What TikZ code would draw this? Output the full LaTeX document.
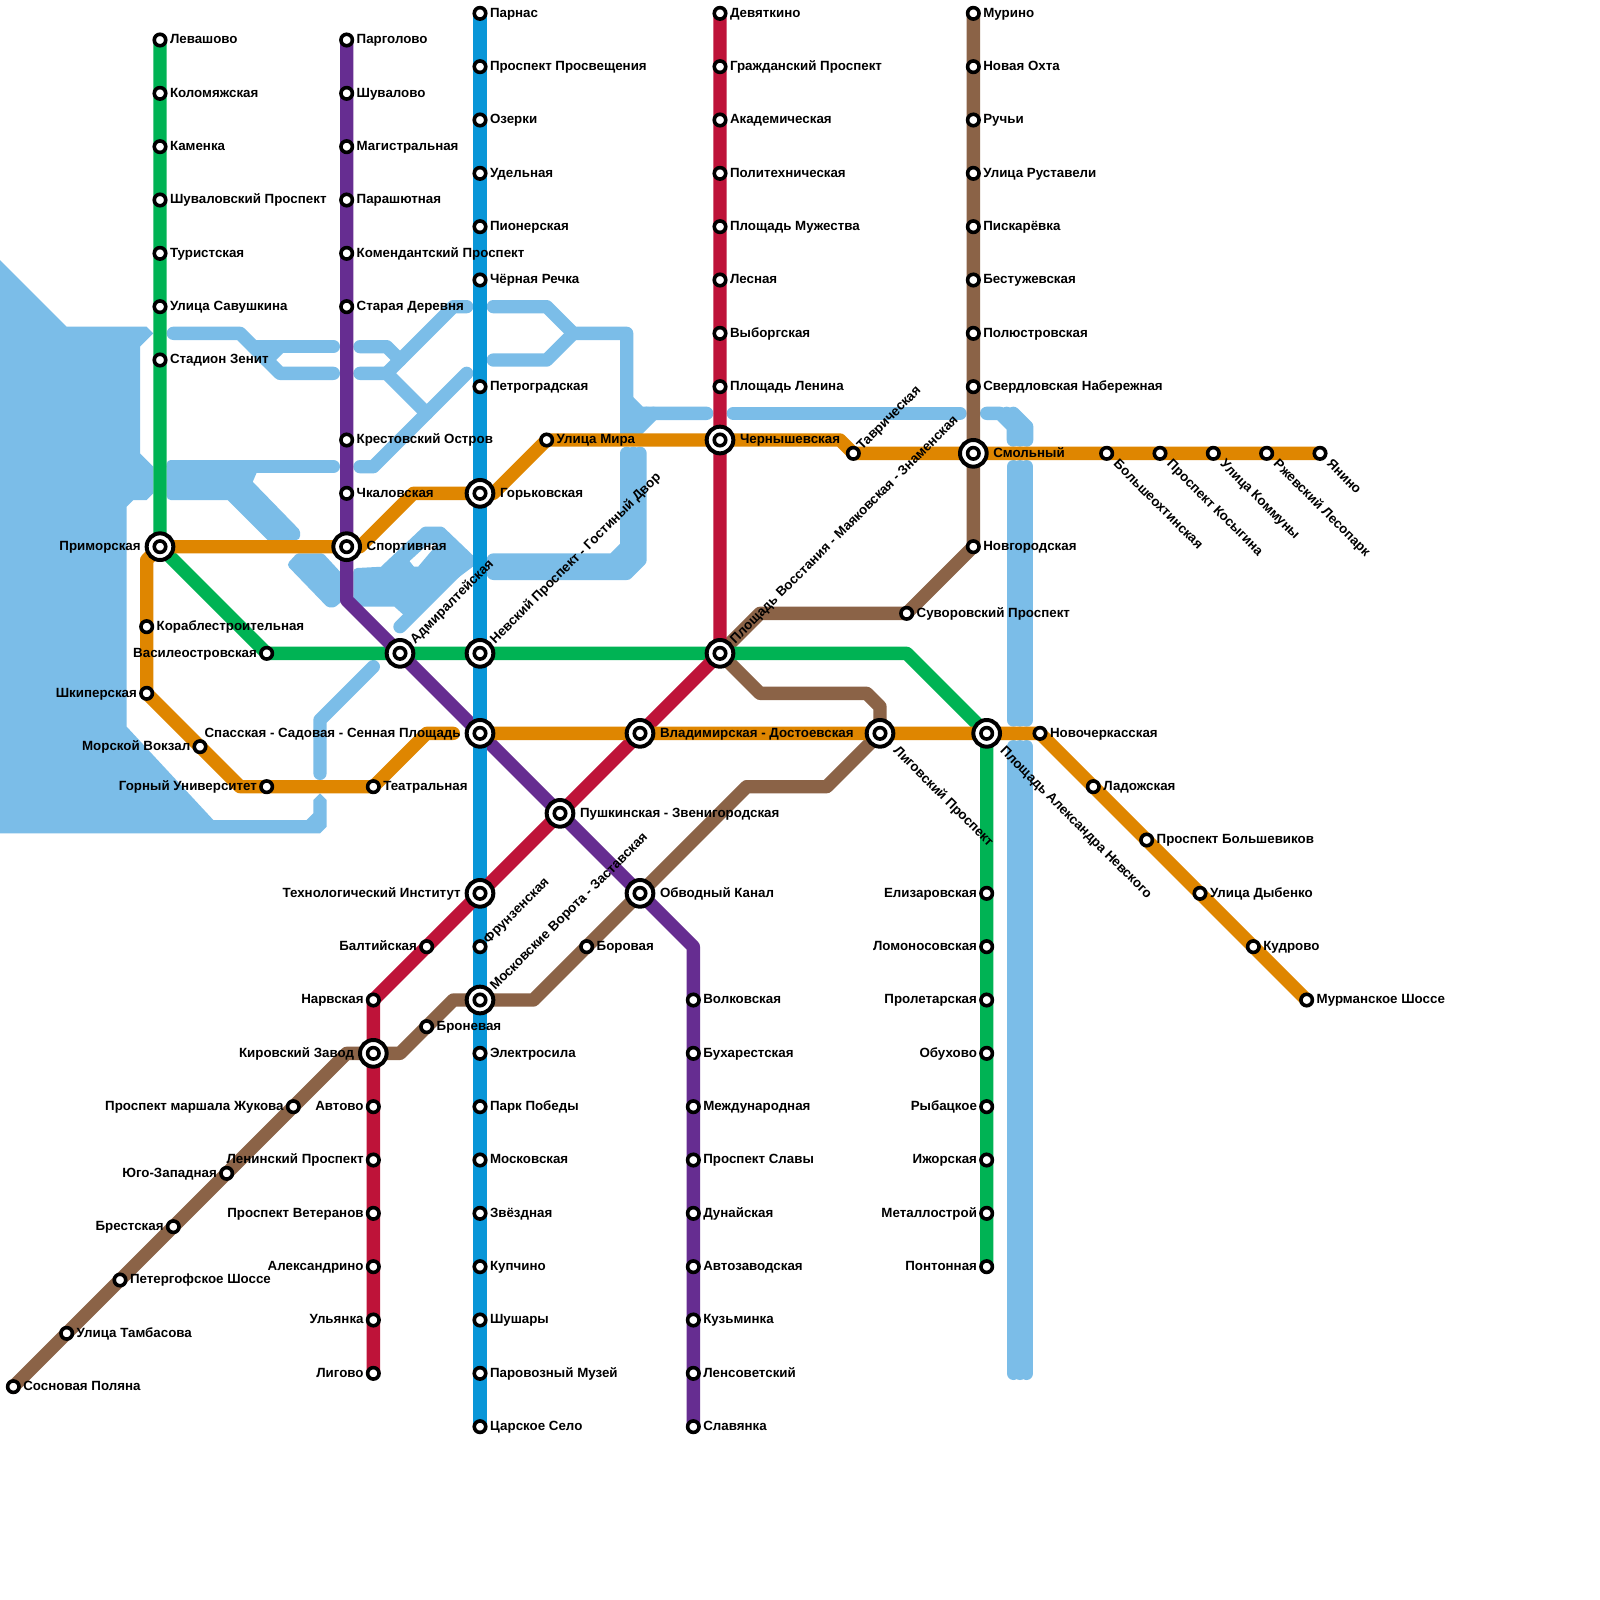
\documentclass[tikz,border=0pt]{standalone}
\usepackage{fontspec}
\setmainfont{Liberation Sans}
\pgfdeclarelayer{back}
\pgfsetlayers{back,main}
\definecolor{cwater}{HTML}{7BBDE8}
\definecolor{cgreen}{HTML}{00B354}
\definecolor{cpurple}{HTML}{662D91}
\definecolor{cblue}{HTML}{0996D8}
\definecolor{cred}{HTML}{BE1339}
\definecolor{cbrown}{HTML}{8B6347}
\definecolor{corange}{HTML}{DF8600}
\tikzset{
  stn/.style={circle,draw=black,fill=white,line width=2.7pt,minimum size=8.6pt,inner sep=0pt,outer sep=0pt},
  stnx/.style={circle,draw=black,fill=white,line width=3pt,minimum size=20pt,inner sep=0pt,outer sep=0pt},
  txt/.style={font=\fontsize{10}{12}\selectfont\bfseries,inner sep=0pt,outer sep=0pt,text=black},
  lr/.style={txt,anchor=base west,xshift=7.5pt,yshift=-2.8pt},
  ll/.style={txt,anchor=base east,xshift=-7.3pt,yshift=-2.8pt},
  xr/.style={txt,anchor=base west,xshift=15pt,yshift=-2.8pt},
  xl/.style={txt,anchor=base east,xshift=-14.5pt,yshift=-2.8pt},
  lu/.style={txt,anchor=base west,rotate=45,xshift=6pt,yshift=-3.2pt},
  ld/.style={txt,anchor=base west,rotate=-45,xshift=9.5pt,yshift=-2.8pt},
  xu/.style={txt,anchor=base west,rotate=45,xshift=13pt,yshift=-3.2pt},
  xd/.style={txt,anchor=base west,rotate=-45,xshift=16.5pt,yshift=-2.8pt},
  metro/.style={line width=10pt,line cap=round,line join=round},
  waterline/.style={draw=cwater,line width=10pt,line cap=round,line join=round},
  waterflat/.style={fill=cwater,draw=cwater,line width=6pt,line join=round,even odd rule}
}
\newcommand\ST[5]{\node[stn] (#1) at (#2,#3) {}; \node[#4] (#1t) at (#1.center) {#5};}
\newcommand\SX[5]{\node[stnx] (#1) at (#2,#3) {}; \node[stn] (#1i) at (#1.center) {}; \node[#4] (#1t) at (#1.center) {#5};}
\begin{document}
\begin{tikzpicture}[x=1pt,y=-1pt]
\path[use as bounding box] (0,0) rectangle (1200,1200);
% interchanges
\SX{prim}{120}{410}{xl}{Приморская}
\SX{sport}{260}{410}{xr}{Спортивная}
\SX{gork}{360}{370}{xr}{Горьковская}
\SX{adm}{300}{490}{xu}{Адмиралтейская}
\SX{nev}{360}{490}{xu}{Невский Проспект - Гостиный Двор}
\SX{vos}{540}{490}{xu}{Площадь Восстания - Маяковская - Знаменская}
\SX{sen}{360}{550}{xl}{Спасская - Садовая - Сенная Площадь}
\SX{vla}{480}{550}{xr}{Владимирская - Достоевская}
\SX{lig}{660}{550}{xd}{Лиговский Проспект}
\SX{ale}{740}{550}{xd}{Площадь Александра Невского}
\SX{pus}{420}{610}{xr}{Пушкинская - Звенигородская}
\SX{tex}{360}{670}{xl}{Технологический Институт}
\SX{obv}{480}{670}{xr}{Обводный Канал}
\SX{mos}{360}{750}{xu}{Московские Ворота - Заставская}
\SX{kir}{280}{790}{xl}{Кировский Завод}
\SX{che}{540}{330}{xr}{Чернышевская}
\SX{smo}{730}{340}{xr}{Смольный}
% green
\ST{g1}{120}{30}{lr}{Левашово}
\ST{g2}{120}{70}{lr}{Коломяжская}
\ST{g3}{120}{110}{lr}{Каменка}
\ST{g4}{120}{150}{lr}{Шуваловский Проспект}
\ST{g5}{120}{190}{lr}{Туристская}
\ST{g6}{120}{230}{lr}{Улица Савушкина}
\ST{g7}{120}{270}{lr}{Стадион Зенит}
\ST{vas}{200}{490}{ll}{Василеостровская}
\ST{g8}{740}{670}{ll}{Елизаровская}
\ST{g9}{740}{710}{ll}{Ломоносовская}
\ST{g10}{740}{750}{ll}{Пролетарская}
\ST{g11}{740}{790}{ll}{Обухово}
\ST{g12}{740}{830}{ll}{Рыбацкое}
\ST{g13}{740}{870}{ll}{Ижорская}
\ST{g14}{740}{910}{ll}{Металлострой}
\ST{g15}{740}{950}{ll}{Понтонная}
% purple
\ST{p1}{260}{30}{lr}{Парголово}
\ST{p2}{260}{70}{lr}{Шувалово}
\ST{p3}{260}{110}{lr}{Магистральная}
\ST{p4}{260}{150}{lr}{Парашютная}
\ST{p5}{260}{190}{lr}{Комендантский Проспект}
\ST{p6}{260}{230}{lr}{Старая Деревня}
\ST{p7}{260}{330}{lr}{Крестовский Остров}
\ST{p8}{260}{370}{lr}{Чкаловская}
\ST{p9}{520}{750}{lr}{Волковская}
\ST{p10}{520}{790}{lr}{Бухарестская}
\ST{p11}{520}{830}{lr}{Международная}
\ST{p12}{520}{870}{lr}{Проспект Славы}
\ST{p13}{520}{910}{lr}{Дунайская}
\ST{p14}{520}{950}{lr}{Автозаводская}
\ST{p15}{520}{990}{lr}{Кузьминка}
\ST{p16}{520}{1030}{lr}{Ленсоветский}
\ST{p17}{520}{1070}{lr}{Славянка}
% blue
\ST{b1}{360}{10}{lr}{Парнас}
\ST{b2}{360}{50}{lr}{Проспект Просвещения}
\ST{b3}{360}{90}{lr}{Озерки}
\ST{b4}{360}{130}{lr}{Удельная}
\ST{b5}{360}{170}{lr}{Пионерская}
\ST{b6}{360}{210}{lr}{Чёрная Речка}
\ST{b7}{360}{290}{lr}{Петроградская}
\ST{b8}{360}{710}{lu}{Фрунзенская}
\ST{b9}{360}{790}{lr}{Электросила}
\ST{b10}{360}{830}{lr}{Парк Победы}
\ST{b11}{360}{870}{lr}{Московская}
\ST{b12}{360}{910}{lr}{Звёздная}
\ST{b13}{360}{950}{lr}{Купчино}
\ST{b14}{360}{990}{lr}{Шушары}
\ST{b15}{360}{1030}{lr}{Паровозный Музей}
\ST{b16}{360}{1070}{lr}{Царское Село}
% red
\ST{r1}{540}{10}{lr}{Девяткино}
\ST{r2}{540}{50}{lr}{Гражданский Проспект}
\ST{r3}{540}{90}{lr}{Академическая}
\ST{r4}{540}{130}{lr}{Политехническая}
\ST{r5}{540}{170}{lr}{Площадь Мужества}
\ST{r6}{540}{210}{lr}{Лесная}
\ST{r7}{540}{250}{lr}{Выборгская}
\ST{r8}{540}{290}{lr}{Площадь Ленина}
\ST{r9}{320}{710}{ll}{Балтийская}
\ST{r10}{280}{750}{ll}{Нарвская}
\ST{r11}{280}{830}{ll}{Автово}
\ST{r12}{280}{870}{ll}{Ленинский Проспект}
\ST{r13}{280}{910}{ll}{Проспект Ветеранов}
\ST{r14}{280}{950}{ll}{Александрино}
\ST{r15}{280}{990}{ll}{Ульянка}
\ST{r16}{280}{1030}{ll}{Лигово}
% brown
\ST{k1}{730}{10}{lr}{Мурино}
\ST{k2}{730}{50}{lr}{Новая Охта}
\ST{k3}{730}{90}{lr}{Ручьи}
\ST{k4}{730}{130}{lr}{Улица Руставели}
\ST{k5}{730}{170}{lr}{Пискарёвка}
\ST{k6}{730}{210}{lr}{Бестужевская}
\ST{k7}{730}{250}{lr}{Полюстровская}
\ST{k8}{730}{290}{lr}{Свердловская Набережная}
\ST{k9}{730}{410}{lr}{Новгородская}
\ST{k10}{680}{460}{lr}{Суворовский Проспект}
\ST{k11}{440}{710}{lr}{Боровая}
\ST{k12}{320}{770}{lr}{Броневая}
\ST{k13}{220}{830}{ll}{Проспект маршала Жукова}
\ST{k14}{170}{880}{ll}{Юго-Западная}
\ST{k15}{130}{920}{ll}{Брестская}
\ST{k16}{90}{960}{lr}{Петергофское Шоссе}
\ST{k17}{50}{1000}{lr}{Улица Тамбасова}
\ST{k18}{10}{1040}{lr}{Сосновая Поляна}
% orange
\ST{o1}{110}{470}{lr}{Кораблестроительная}
\ST{o2}{110}{520}{ll}{Шкиперская}
\ST{o3}{150}{560}{ll}{Морской Вокзал}
\ST{o4}{200}{590}{ll}{Горный Университет}
\ST{o5}{280}{590}{lr}{Театральная}
\ST{o6}{410}{330}{lr}{Улица Мира}
\ST{o7}{640}{340}{lu}{Таврическая}
\ST{o8}{830}{340}{ld}{Большеохтинская}
\ST{o9}{870}{340}{ld}{Проспект Косыгина}
\ST{o10}{910}{340}{ld}{Улица Коммуны}
\ST{o11}{950}{340}{ld}{Ржевский Лесопарк}
\ST{o12}{990}{340}{ld}{Янино}
\ST{o13}{780}{550}{lr}{Новочеркасская}
\ST{o14}{820}{590}{lr}{Ладожская}
\ST{o15}{860}{630}{lr}{Проспект Большевиков}
\ST{o16}{900}{670}{lr}{Улица Дыбенко}
\ST{o17}{940}{710}{lr}{Кудрово}
\ST{o18}{980}{750}{lr}{Мурманское Шоссе}
% bends
\foreach \n/\x/\y in {gb1/680/490,pb1/260/450,pb2/520/710,kb1/570/460,kb2/570/520,kb3/650/520,kb4/660/530,kb5/620/590,kb6/560/590,kb7/400/750,kb8/340/750,kb9/300/790,kb10/260/790,ob1/110/420,ob2/180/590,ob3/320/550,ob4/340/550,ob5/310/370,ob6/630/330,ob7/270/410,ob8/370/370}
  \coordinate (\n) at (\x,\y);
\begin{pgfonlayer}{back}
\fill[white] (0,0) rectangle (1200,1200);
% water
\fill[cwater] (0,195) -- (50,245) -- (110,245) -- (115,250) -- (105,260) -- (105,340) -- (115,350) -- (115,370) -- (110,375) -- (100,375) -- (95,380) -- (95,545) -- (160,615) -- (230,615) -- (235,610) -- (235,600) -- (240,595) -- (245,600) -- (245,620) -- (240,625) -- (0,625) -- cycle;
\draw[waterline] (130,250) -- (180,250) -- (210,280) -- (250,280);
\draw[waterline] (190,260) -- (250,260);
\draw[waterline] (210,260) -- (200,270);
\draw[waterline] (130,350) -- (250,350);
\draw[waterflat] (128,348) -- (192,348) -- (186,362) -- (222,399) -- (222,402) -- (205,405) -- (172,372) -- (128,372) -- cycle;
\draw[waterflat] (224,418) -- (241,418) -- (253,431) -- (253,450) -- (250,452.5) -- (247,452.5) -- (219,423.5) -- cycle;
\draw[waterflat] (268,429) -- (287,428) -- (318.7,398) -- (331,398) -- (355,421) -- (339,433) -- (300,470) -- (307,461) -- (297,452) -- (268,452) -- cycle (303,420.5) -- (319.5,405.5) -- (334,405.5) -- (315,428) -- (309,428) -- cycle;
\draw[waterline] (345,425) -- (300,470);
\draw[waterline] (270,260) -- (290,260) -- (300,270);
\draw[waterline] (270,280) -- (290,280) -- (320,310);
\draw[waterline] (290,280) -- (340,230) -- (350,230);
\draw[waterline] (350,280) -- (280,350) -- (270,350);
\draw[waterline] (370,230) -- (410,230) -- (430,250) -- (470,250) -- (470,325);
\draw[waterline] (370,270) -- (410,270) -- (430,250);
\draw[waterline] (470,300) -- (480,310) -- (530,310);
\draw[waterline] (475,325) -- (490,310);
\draw[waterline] (475,315) -- (485,310);
\draw[waterline] (470,340) -- (470,410) -- (460,420) -- (370,420);
\draw[waterline] (475,340) -- (475,415) -- (465,425) -- (370,425);
\draw[waterline] (480,340) -- (480,420) -- (470,430) -- (370,430);
\draw[waterline] (550,310) -- (720,310);
\draw[waterline] (740,310) -- (750,310) -- (760,320) -- (760,330);
\draw[waterline] (755,310) -- (765,320) -- (765,330);
\draw[waterline] (760,310) -- (770,320) -- (770,330);
\draw[waterline] (760,350) -- (760,540);
\draw[waterline] (765,350) -- (765,540);
\draw[waterline] (770,350) -- (770,540);
\draw[waterline] (760,560) -- (760,1030);
\draw[waterline] (765,560) -- (765,1030);
\draw[waterline] (770,560) -- (770,1030);
\draw[waterline] (280,500) -- (240,540) -- (240,580);
% lines
\draw[metro,cbrown] (k1.center) -- (k8.center) -- (smo.center) -- (k9.center) -- (k10.center) -- (kb1) -- (vos.center) -- (kb2) -- (kb3) -- (kb4) -- (lig.center) -- (kb5) -- (kb6) -- (obv.center) -- (k11.center) -- (kb7) -- (mos.center) -- (kb8) -- (k12.center) -- (kb9) -- (kir.center) -- (kb10) -- (k13.center) -- (k14.center) -- (k15.center) -- (k16.center) -- (k17.center) -- (k18.center);
\draw[metro,cgreen] (g1.center) -- (g7.center) -- (prim.center) -- (vas.center) -- (adm.center) -- (nev.center) -- (vos.center) -- (gb1) -- (ale.center) -- (g8.center) -- (g15.center);
\draw[metro,cpurple] (p1.center) -- (p6.center) -- (p7.center) -- (p8.center) -- (sport.center) -- (pb1) -- (adm.center) -- (sen.center) -- (pus.center) -- (obv.center) -- (pb2) -- (p9.center) -- (p17.center);
\draw[metro,cblue] (b1.center) -- (b7.center) -- (gork.center) -- (nev.center) -- (sen.center) -- (tex.center) -- (b8.center) -- (mos.center) -- (b9.center) -- (b16.center);
\draw[metro,cred] (r1.center) -- (r8.center) -- (che.center) -- (vos.center) -- (vla.center) -- (pus.center) -- (tex.center) -- (r9.center) -- (r10.center) -- (kir.center) -- (r11.center) -- (r16.center);
\draw[metro,corange] (o18.center) -- (o13.center) -- (ale.center) -- (lig.center) -- (vla.center) -- (sen.center);
\draw[metro,corange] (ob4) -- (ob3) -- (o5.center) -- (o4.center) -- (ob2) -- (o3.center) -- (o2.center) -- (o1.center) -- (ob1) -- (prim.center) -- (sport.center) -- (ob7) -- (ob5) -- (gork.center) -- (ob8) -- (o6.center) -- (che.center) -- (ob6) -- (o7.center) -- (smo.center) -- (o8.center) -- (o12.center);
\end{pgfonlayer}
\end{tikzpicture}
\end{document}
